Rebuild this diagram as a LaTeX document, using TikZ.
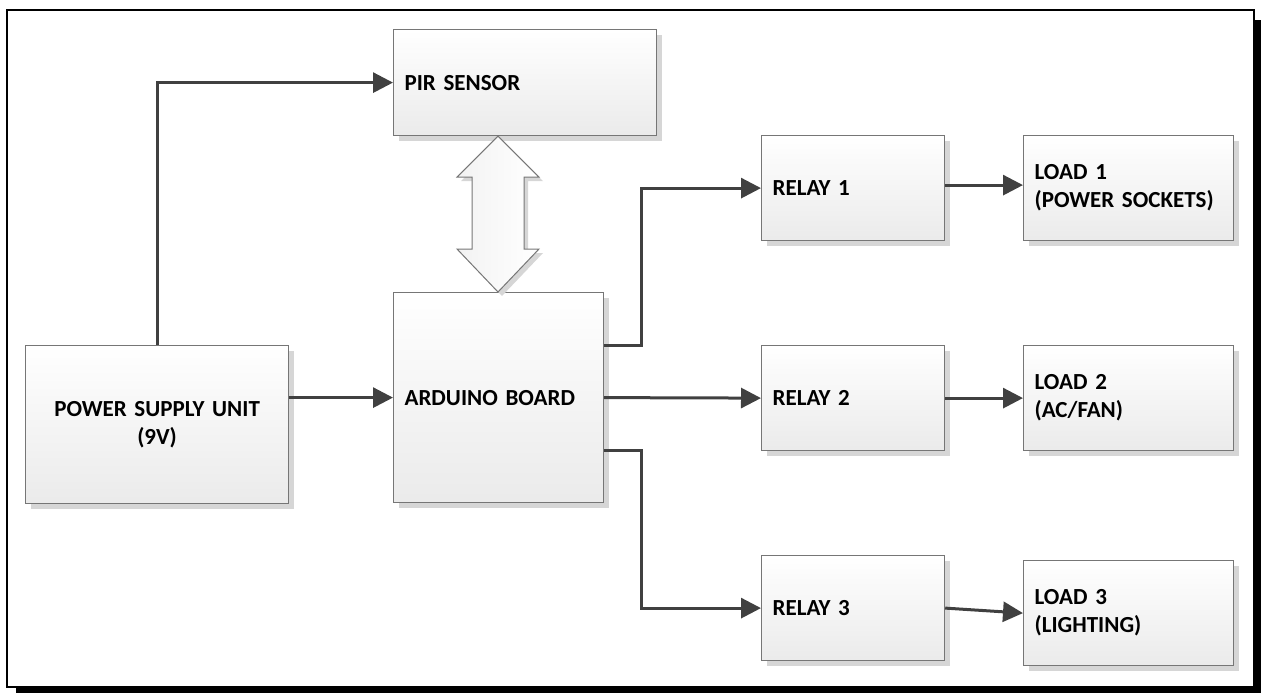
\documentclass[tikz,border=0pt]{standalone}
\usepackage{fontspec}
\setmainfont{Carlito}[WordSpace=0.7]
\usetikzlibrary{arrows.meta,calc,shadows}
\definecolor{linegray}{HTML}{404040}
\definecolor{boxborder}{HTML}{767676}
\definecolor{shadowgray}{HTML}{D6D6D6}
\begin{document}
\begin{tikzpicture}[x=1pt,y=-1pt,
  blk/.style={draw=boxborder, line width=1.2pt, top color=white, bottom color=black!8,
     drop shadow={shadow xshift=5pt, shadow yshift=-5pt, fill=shadowgray, opacity=1},
     font=\fontsize{23}{28}\selectfont\bfseries, inner xsep=11pt, inner ysep=0pt,
     align=left, anchor=north west},
  conn/.style={draw=linegray, line width=3pt, -{Triangle[length=20pt,width=20pt]}}
]
\useasboundingbox (0,0) rectangle (1261,693);
% frame
\fill[black] (1254,20) rectangle (1261,693);
\fill[black] (16,686) rectangle (1261,693);
\draw[black, line width=1.8pt] (7,10) rectangle (1254,687);

% nodes
\node[blk, minimum width=263pt, minimum height=106pt, text width=241pt] (pir) at (393,29) {PIR SENSOR};
\node[blk, minimum width=210pt, minimum height=210pt, text width=188pt] (ard) at (393,292) {ARDUINO BOARD};
\node[blk, minimum width=263pt, minimum height=158pt, text width=241pt, align=center] (psu) at (25,345) {POWER SUPPLY UNIT\\(9V)};
\node[blk, minimum width=183pt, minimum height=105pt, text width=161pt] (r1) at (761,135) {RELAY 1};
\node[blk, minimum width=183pt, minimum height=105pt, text width=161pt] (r2) at (761,345) {RELAY 2};
\node[blk, minimum width=183pt, minimum height=105pt, text width=161pt] (r3) at (761,555) {RELAY 3};
\node[blk, minimum width=210pt, minimum height=105pt, text width=188pt] (l1) at (1023,135) {LOAD 1\\(POWER SOCKETS)};
\node[blk, minimum width=210pt, minimum height=105pt, text width=188pt] (l2) at (1023,345) {LOAD 2\\(AC/FAN)};
\node[blk, minimum width=210pt, minimum height=105pt, text width=188pt] (l3) at (1023,560) {LOAD 3\\(LIGHTING)};

% block double arrow between PIR and Arduino
\path (pir.south -| 498,0) coordinate (dt) (ard.north -| 498,0) coordinate (db);
\draw[draw=boxborder, line width=1pt, left color=black!5, right color=white,
      drop shadow={shadow xshift=4pt, shadow yshift=-4pt, fill=shadowgray, opacity=1}]
  (dt) -- ($(dt)+(41,41)$) -- ($(dt)+(26,41)$) -- ($(db)+(26,-43)$) -- ($(db)+(41,-43)$)
  -- (db) -- ($(db)+(-41,-43)$) -- ($(db)+(-26,-43)$) -- ($(dt)+(-26,41)$) -- ($(dt)+(-41,41)$) -- cycle;

% connectors
\draw[conn] (psu.north) |- (pir.west);
\draw[conn] (psu.east |- ard.west) -- (ard.west);
\coordinate (a1) at ($(ard.east)+(0,-52)$);
\coordinate (a3) at ($(ard.east)+(0,53)$);
\draw[conn] (a1) -- (641,0 |- a1) |- (r1.west);
\draw[conn] (ard.east) -- (r2.west);
\draw[conn] (a3) -- (641,0 |- a3) |- (r3.west);
\coordinate (r1o) at ($(r1.east)+(0,-3)$);
\draw[conn] (r1o) -- (r1o -| l1.west);
\draw[conn] (r2.east) -- (l2.west);
\draw[conn] (r3.east) -- (l3.west);
\end{tikzpicture}
\end{document}
